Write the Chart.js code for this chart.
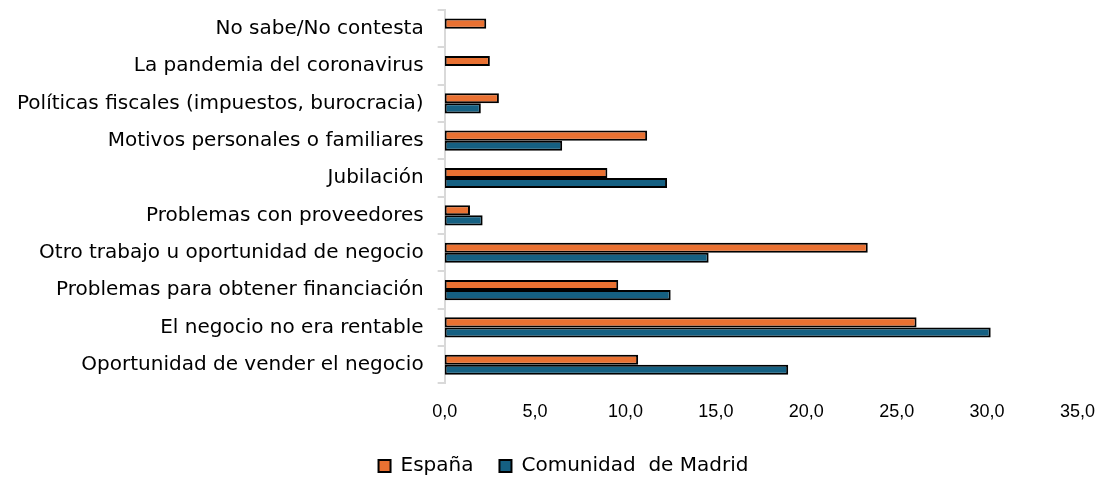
<!DOCTYPE html>
<html>
<head>
<meta charset="utf-8">
<script src="https://cdn.jsdelivr.net/npm/chart.js@4/dist/chart.umd.min.js"></script>
<style>
  html, body { margin: 0; padding: 0; background: #fff; overflow: hidden; }
  #chart-container { width: 1105px; height: 478px; }
</style>
</head>
<body>
<div id="chart-container"><canvas id="motivosChart"></canvas></div>
<script>
// Categories, top to bottom
const categories = [
  'No sabe/No contesta',
  'La pandemia del coronavirus',
  'Políticas fiscales (impuestos, burocracia)',
  'Motivos personales o familiares',
  'Jubilación',
  'Problemas con proveedores',
  'Otro trabajo u oportunidad de negocio',
  'Problemas para obtener financiación',
  'El negocio no era rentable',
  'Oportunidad de vender el negocio'
];

const espana = [2.3, 2.5, 3.0, 11.2, 9.0, 1.4, 23.4, 9.6, 26.1, 10.7];
const madrid = [null, null, 2.0, 6.5, 12.3, 2.1, 14.6, 12.5, 30.2, 19.0];

const xTicks = [0, 5, 10, 15, 20, 25, 30, 35];

const labelFont = { family: 'DejaVu Sans', size: 20 };

// the legend in the original sits a bit right of centre
const legendNudge = {
  id: 'legendNudge',
  afterLayout(chart) {
    chart.legend.left += 12;
    chart.legend.right += 12;
  }
};

const ctx = document.getElementById('motivosChart').getContext('2d');
new Chart(ctx, {
  type: 'bar',
  data: {
    labels: categories,
    datasets: [
      {
        label: 'España',
        data: espana,
        backgroundColor: '#E97132',
        borderColor: '#000000',
        borderWidth: 2,
        borderSkipped: false,
        barPercentage: 1,
        categoryPercentage: 0.54
      },
      {
        label: 'Comunidad  de Madrid',
        data: madrid,
        backgroundColor: '#156082',
        borderColor: '#000000',
        borderWidth: 2,
        borderSkipped: false,
        barPercentage: 1,
        categoryPercentage: 0.54
      }
    ]
  },
  plugins: [legendNudge],
  options: {
    indexAxis: 'y',
    responsive: true,
    maintainAspectRatio: false,
    animation: false,
    layout: { padding: { top: 10, right: 5, bottom: -8, left: 3 } },
    plugins: {
      tooltip: { enabled: false },
      legend: {
        position: 'bottom',
        labels: {
          boxWidth: 12,
          boxHeight: 12,
          padding: 26,
          color: '#000',
          font: labelFont
        }
      }
    },
    scales: {
      x: {
        min: 0,
        max: 35,
        afterBuildTicks: (axis) => { axis.ticks = xTicks.map(v => ({ value: v })); },
        afterFit: (axis) => { axis.height -= 3; },
        grid: { display: false },
        border: { display: false },
        ticks: {
          padding: 10,
          color: '#000',
          font: { family: 'Liberation Sans', size: 18 },
          callback: (v) => Number(v).toFixed(1).replace('.', ',')
        }
      },
      y: {
        afterFit: (axis) => { axis.paddingTop = 0; axis.paddingBottom = 0; },
        grid: {
          drawOnChartArea: false,
          drawTicks: true,
          tickLength: 7,
          color: '#d9d9d9',
          lineWidth: 2
        },
        border: { display: true, color: '#d9d9d9', width: 2 },
        ticks: {
          padding: 14,
          color: '#000',
          font: labelFont
        }
      }
    }
  }
});
</script>
</body>
</html>
